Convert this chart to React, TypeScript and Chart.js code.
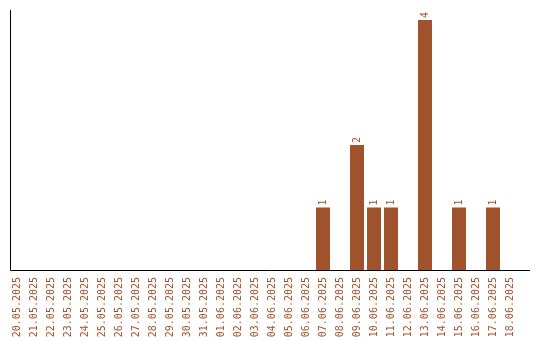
import React, { useEffect, useRef } from "react";
import { Chart, registerables } from "chart.js";

Chart.register(...registerables);

const categories: string[] = [
  "20.05.2025", "21.05.2025", "22.05.2025", "23.05.2025", "24.05.2025", "25.05.2025",
  "26.05.2025", "27.05.2025", "28.05.2025", "29.05.2025", "30.05.2025", "31.05.2025",
  "01.06.2025", "02.06.2025", "03.06.2025", "04.06.2025", "05.06.2025", "06.06.2025",
  "07.06.2025", "08.06.2025", "09.06.2025", "10.06.2025", "11.06.2025", "12.06.2025",
  "13.06.2025", "14.06.2025", "15.06.2025", "16.06.2025", "17.06.2025", "18.06.2025",
];

const counts: number[] = [
  0, 0, 0, 0, 0, 0,
  0, 0, 0, 0, 0, 0,
  0, 0, 0, 0, 0, 0,
  1, 0, 2, 1, 1, 0,
  4, 0, 1, 0, 1, 0,
];

const COLOR = "#A0522D";
const FONT = "DejaVu Sans Mono";

const axisLinesPlugin = {
  id: "axisLines",
  afterDraw(chart: any) {
    const { ctx, chartArea } = chart;
    ctx.save();
    ctx.strokeStyle = "#000";
    ctx.lineWidth = 1;
    ctx.beginPath();
    const x0 = Math.floor(chartArea.left) + 2.5;
    const yb = Math.round(chartArea.bottom) + 0.5;
    ctx.moveTo(x0, chartArea.top - 10);
    ctx.lineTo(x0, yb);
    ctx.lineTo(chartArea.right + 11.5, yb);
    ctx.stroke();
    ctx.restore();
  },
};

const valueLabelsPlugin = {
  id: "valueLabels",
  afterDatasetsDraw(chart: any) {
    const { ctx } = chart;
    const meta = chart.getDatasetMeta(0);
    const data = chart.data.datasets[0].data as number[];
    ctx.save();
    ctx.fillStyle = COLOR;
    ctx.font = `10px "${FONT}"`;
    ctx.textAlign = "left";
    ctx.textBaseline = "middle";
    meta.data.forEach((bar: any, i: number) => {
      const v = data[i];
      if (!v) return;
      ctx.save();
      ctx.translate(bar.x, bar.y - 2);
      ctx.rotate(-Math.PI / 2);
      ctx.fillText(String(v), 0, 0);
      ctx.restore();
    });
    ctx.restore();
  },
};

export default function App() {
  const ref = useRef<HTMLCanvasElement | null>(null);
  useEffect(() => {
    if (!ref.current) return;
    const chart = new Chart(ref.current, {
      type: "bar",
      data: {
        labels: categories,
        datasets: [
          {
            data: counts,
            backgroundColor: COLOR,
            borderWidth: 0,
            categoryPercentage: 1,
            barPercentage: 14 / 17,
          },
        ],
      },
      options: {
        animation: false,
        responsive: false,
        maintainAspectRatio: false,
        layout: { padding: { left: 8.5, right: 21.5, top: 20, bottom: 0 } },
        plugins: { legend: { display: false }, tooltip: { enabled: false } },
        scales: {
          x: {
            grid: { display: false, drawTicks: false },
            border: { display: false },
            ticks: {
              autoSkip: false,
              minRotation: 90,
              maxRotation: 90,
              padding: 7,
              color: COLOR,
              font: { family: FONT, size: 10 },
            },
            afterFit(scale: any) {
              scale.height = 70;
            },
          },
          y: {
            display: false,
            min: 0,
            max: 4,
          },
        },
      },
      plugins: [axisLinesPlugin, valueLabelsPlugin],
    });
    return () => chart.destroy();
  }, []);
  return (
    <div style={{ position: "absolute", left: 0, top: 0, width: 540, height: 340, background: "#fff" }}>
      <canvas ref={ref} width={540} height={340} style={{ width: 540, height: 340 }} />
    </div>
  );
}
